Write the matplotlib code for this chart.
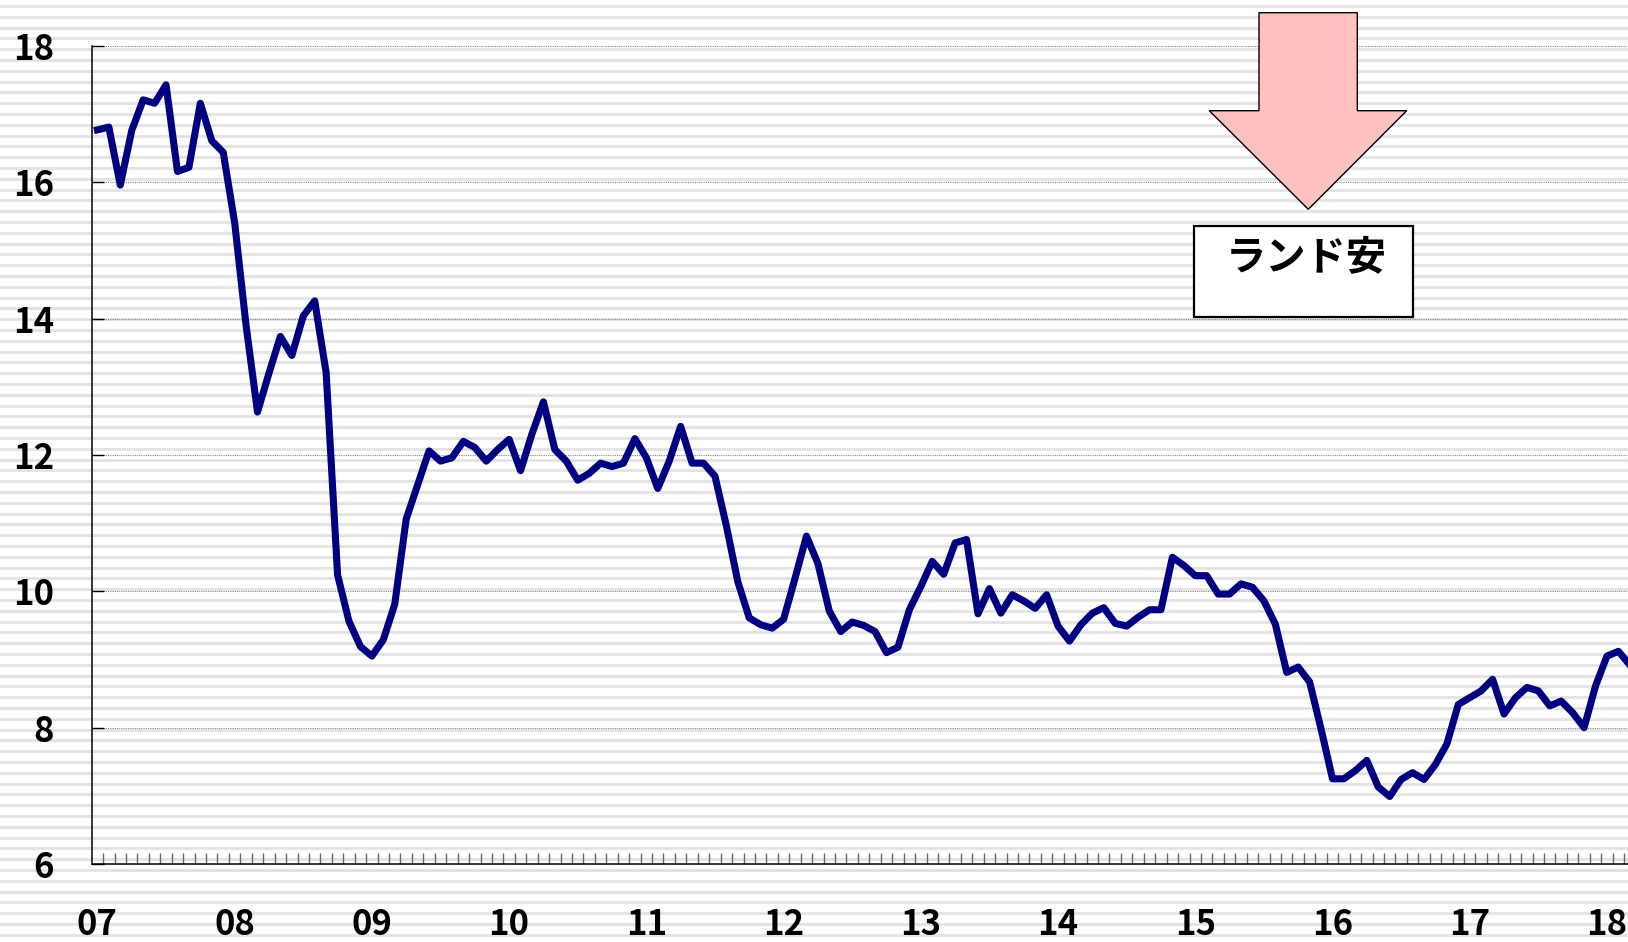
import numpy as np
import matplotlib
matplotlib.use("Agg")
import matplotlib.pyplot as plt
from matplotlib.patches import Polygon, Rectangle

plt.rcParams['font.family'] = ['Noto Sans CJK JP', 'DejaVu Sans']

# 円/ランド 月次 (2007年1月 - 2018年3月)
rate = [
    16.77, 16.81, 15.96, 16.76, 17.21, 17.16, 17.43, 16.16, 16.22, 17.16, 16.61, 16.44,  # 07
    15.41, 13.90, 12.63, 13.20, 13.74, 13.46, 14.04, 14.26, 13.21, 10.24, 9.56, 9.19,    # 08
    9.05, 9.29, 9.81, 11.06, 11.56, 12.06, 11.91, 11.96, 12.20, 12.11, 11.91, 12.08,     # 09
    12.23, 11.77, 12.31, 12.78, 12.08, 11.91, 11.63, 11.73, 11.88, 11.83, 11.88, 12.24,  # 10
    11.96, 11.51, 11.91, 12.42, 11.88, 11.88, 11.69, 10.96, 10.14, 9.61, 9.51, 9.46,     # 11
    9.59, 10.19, 10.81, 10.41, 9.71, 9.41, 9.55, 9.50, 9.41, 9.10, 9.18, 9.73,           # 12
    10.07, 10.44, 10.25, 10.71, 10.76, 9.67, 10.04, 9.68, 9.95, 9.86, 9.75, 9.95,        # 13
    9.49, 9.27, 9.51, 9.68, 9.76, 9.53, 9.49, 9.62, 9.73, 9.73, 10.50, 10.38,            # 14
    10.23, 10.23, 9.96, 9.96, 10.11, 10.06, 9.86, 9.52, 8.81, 8.89, 8.67, 7.98,          # 15
    7.25, 7.25, 7.37, 7.52, 7.13, 6.99, 7.24, 7.34, 7.24, 7.46, 7.76, 8.34,              # 16
    8.44, 8.54, 8.71, 8.20, 8.44, 8.59, 8.54, 8.32, 8.39, 8.22, 8.00, 8.61,              # 17
    9.05, 9.12, 8.92,                                                                    # 18
]
year_labels = ['07', '08', '09', '10', '11', '12', '13', '14', '15', '16', '17', '18']
y_ticks = [6, 8, 10, 12, 14, 16, 18]
note = 'ランド安'

W, H = 1628, 942
fig = plt.figure(figsize=(W / 100, H / 100), dpi=100)
fig.patch.set_facecolor('white')

# 背景の横縞
bg = fig.add_axes([0, 0, 1, 1], zorder=-1)
bg.set_xlim(0, W)
bg.set_ylim(H, 0)
bg.axis('off')
for yy in np.arange(6, H, 10.8):
    bg.axhline(yy, color='#e4e4e4', lw=2.2)

ax = fig.add_axes([91.7 / W, 78 / H, 1 - 91.7 / W, 818 / H])
ax.set_facecolor('none')

x = np.arange(len(rate))
ax.plot(x, rate, color='#000080', lw=5.1, solid_joinstyle='round', zorder=3)

ax.set_xlim(-0.5, 133.84)
ax.set_ylim(6, 18)

ax.set_yticks(y_ticks)
ax.set_yticklabels([str(v) for v in y_ticks], fontsize=25, fontweight='bold')
ax.tick_params(axis='y', direction='in', length=8.5, width=1, color='black', pad=27)
ax.grid(True, axis='y', color='#888888', lw=0.8, linestyle=(0, (1, 1)))

ax.set_xticks(np.arange(0, len(rate), 12))
ax.set_xticklabels(year_labels, fontsize=25, fontweight='bold')
ax.tick_params(axis='x', which='major', length=0, pad=31)
ax.set_xticks(np.arange(0.5, 134, 1), minor=True)
ax.tick_params(axis='x', which='minor', direction='in', length=8, width=1, color='#666666')

for s in ['top', 'right']:
    ax.spines[s].set_visible(False)
for s in ['left', 'bottom']:
    ax.spines[s].set_color('black')
    ax.spines[s].set_linewidth(1.1)


def px(xp, yp):
    return (xp / W, 1 - yp / H)


arrow_pts = [px(1259, 12.7), px(1357.3, 12.7), px(1357.3, 110.7), px(1406.7, 110.7),
             px(1308.3, 209.3), px(1209.3, 110.7), px(1259, 110.7)]
fig.add_artist(Polygon(arrow_pts, closed=True, facecolor='#ffc0c0', edgecolor='black',
                       lw=1.0, transform=fig.transFigure, zorder=5))

bx0, by0 = px(1194, 316.7)
fig.add_artist(Rectangle((bx0, by0), (1412.7 - 1194) / W, (316.7 - 226) / H,
                         facecolor='white', edgecolor='black', lw=1.6,
                         transform=fig.transFigure, zorder=5))
tx, ty = px(1306.7, 258)
fig.text(tx, ty, note, fontsize=29, fontweight='bold', ha='center', va='center', zorder=6)

fig.savefig('out.png', dpi=100)
